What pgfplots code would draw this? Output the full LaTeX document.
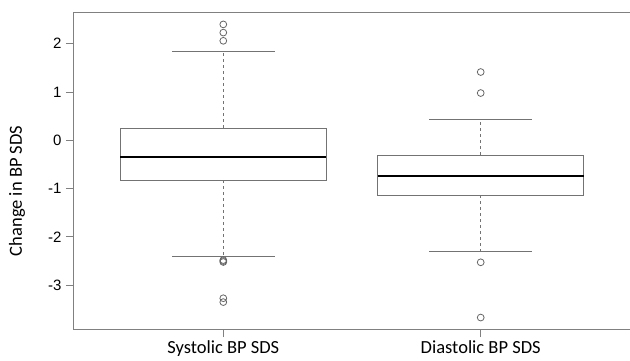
\documentclass[border=0pt]{standalone}
\usepackage{fontspec}
\setmainfont{Carlito}
\newfontfamily\arialf{Liberation Sans}
\usepackage{pgfplots}
\pgfplotsset{compat=1.18}
\usepgfplotslibrary{statistics}
\definecolor{framegray}{gray}{0.5}
\definecolor{boxgray}{gray}{0.45}
\definecolor{outgray}{gray}{0.4}
\begin{document}
\begin{tikzpicture}
\begin{axis}[
  scale only axis,
  width=556bp, height=316bp,
  xmin=0.42, xmax=2.58,
  ymin=-3.907, ymax=2.636,
  xtick={1,2},
  xticklabels={Systolic BP SDS, Diastolic BP SDS},
  ytick={-3,-2,-1,0,1,2},
  yticklabels={-3,-2,-1,0,1,2},
  xtick pos=bottom, ytick pos=left,
  tick align=outside,
  major tick length=8bp,
  tick style={framegray, line width=0.8bp},
  axis line style={framegray, line width=1bp},
  yticklabel style={font=\arialf\fontsize{15bp}{18bp}\selectfont, xshift=-1bp},
  xticklabel style={font=\fontsize{18.5bp}{22bp}\selectfont, yshift=-2.5bp, inner sep=1bp},
  ylabel={Change in BP SDS},
  every axis y label/.style={at={(axis description cs:-0.1025,0.437)}, rotate=90, anchor=center, font=\fontsize{18.5bp}{22bp}\selectfont},
  /pgf/number format/assume math mode=true,
  boxplot/draw direction=y,
  boxplot/box extend=0.8,
  boxplot/whisker extend=0.4,
  boxplot/every box/.style={draw=boxgray, line width=0.9bp},
  boxplot/every median/.style={draw=black, line width=2.2bp},
  boxplot/draw/lower whisker/.code={
    \draw[boxgray, line width=0.8bp, dash pattern=on 3bp off 3bp]
      (boxplot box cs:\pgfplotsboxplotvalue{lower quartile},0.5) --
      (boxplot box cs:\pgfplotsboxplotvalue{lower whisker},0.5);
    \draw[boxgray, line width=0.9bp]
      (boxplot whisker cs:\pgfplotsboxplotvalue{lower whisker},0) --
      (boxplot whisker cs:\pgfplotsboxplotvalue{lower whisker},1);
  },
  boxplot/draw/upper whisker/.code={
    \draw[boxgray, line width=0.8bp, dash pattern=on 3bp off 3bp]
      (boxplot box cs:\pgfplotsboxplotvalue{upper quartile},0.5) --
      (boxplot box cs:\pgfplotsboxplotvalue{upper whisker},0.5);
    \draw[boxgray, line width=0.9bp]
      (boxplot whisker cs:\pgfplotsboxplotvalue{upper whisker},0) --
      (boxplot whisker cs:\pgfplotsboxplotvalue{upper whisker},1);
  },
]
\addplot[boxplot prepared={
    lower whisker=-2.40, lower quartile=-0.832, median=-0.352,
    upper quartile=0.255, upper whisker=1.83, draw position=1},
  mark=o, mark size=3.4bp, mark options={outgray, line width=0.8bp}]
  coordinates {(0,2.40) (0,2.23) (0,2.06) (0,-2.48) (0,-2.50) (0,-2.52) (0,-3.27) (0,-3.35)};
\addplot[boxplot prepared={
    lower whisker=-2.30, lower quartile=-1.139, median=-0.733,
    upper quartile=-0.304, upper whisker=0.427, draw position=2},
  mark=o, mark size=3.4bp, mark options={outgray, line width=0.8bp}]
  coordinates {(0,1.414) (0,0.979) (0,-2.526) (0,-3.67)};
\end{axis}
\pgfresetboundingbox
\path[use as bounding box] ([xshift=-74bp,yshift=-32bp]current axis.south west) rectangle ([yshift=13bp]current axis.north east);
\end{tikzpicture}
\end{document}
